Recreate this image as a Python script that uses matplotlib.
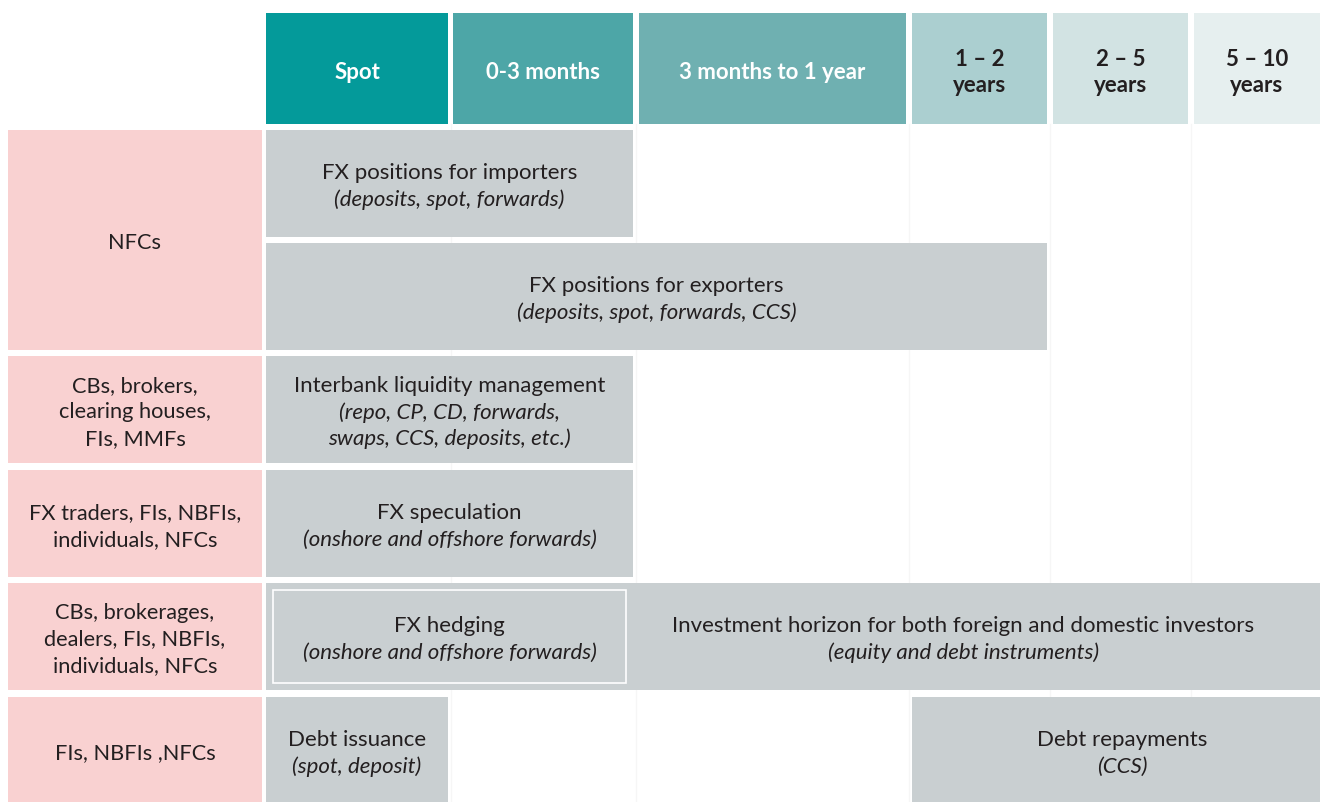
import matplotlib
matplotlib.use("Agg")
import matplotlib.pyplot as plt
from matplotlib.patches import Rectangle

# ---- data ----
horizons = ["Spot", "0-3 months", "3 months to 1 year",
            "1 – 2\nyears", "2 – 5\nyears", "5 – 10\nyears"]
header_colors = ["#049a9a", "#4da6a7", "#6fb0b1", "#abcfd0", "#d2e3e3", "#e6efef"]
header_text = ["white", "white", "white", "#231f20", "#231f20", "#231f20"]

participants = ["NFCs",
                "CBs, brokers,\nclearing houses,\nFIs, MMFs",
                "FX traders, FIs, NBFIs,\nindividuals, NFCs",
                "CBs, brokerages,\ndealers, FIs, NBFIs,\nindividuals, NFCs",
                "FIs, NBFIs ,NFCs"]
# which slots (sub-rows) each participant group spans
participant_slots = [(0, 1), (2, 2), (3, 3), (4, 4), (5, 5)]

# (slot, first horizon, last horizon, activity, instruments)
activities = [
    (0, 0, 1, "FX positions for importers", "(deposits, spot, forwards)"),
    (1, 0, 3, "FX positions for exporters", "(deposits, spot, forwards, CCS)"),
    (2, 0, 1, "Interbank liquidity management", "(repo, CP, CD, forwards,\nswaps, CCS, deposits, etc.)"),
    (3, 0, 1, "FX speculation", "(onshore and offshore forwards)"),
    (4, 0, 5, "Investment horizon for both foreign and domestic investors", "(equity and debt instruments)"),
    (5, 0, 0, "Debt issuance", "(spot, deposit)"),
    (5, 3, 5, "Debt repayments", "(CCS)"),
]
# activity drawn on top of another one, with white outline
hedging = (4, 0, 1, "FX hedging", "(onshore and offshore forwards)")

# ---- layout (pixels) ----
W, H = 1320, 803
col_left = [266, 453, 639, 912, 1053, 1194]
col_right = [448, 633, 906, 1047, 1188, 1332]
header_top, header_bot = 14, 125
slot_top = [131, 244, 357, 471, 584, 698]
slot_h = 107
label_x0, label_x1 = 8, 262
step = 26.5
fs = 16
dy = 2  # small baseline nudge

gray = "#c9cfd1"
pink = "#f9d1d1"
ink = "#231f20"
plt.rcParams["font.family"] = ["Lato", "DejaVu Sans"]

fig = plt.figure(figsize=(W / 100, H / 100), dpi=100)
ax = fig.add_axes([0, 0, 1, 1])
ax.set_xlim(0, W)
ax.set_ylim(H, 0)
ax.axis("off")


def lines_at(cx, cy, lines, **kw):
    # lines: list of (text, style)
    top = cy + dy - step * (len(lines) - 1) / 2
    for k, (txt, st) in enumerate(lines):
        ax.text(cx, top + k * step, txt, ha="center", va="center",
                style=st, **kw)


# faint guide lines between columns
for x in [450.5, 636, 909, 1050, 1191]:
    ax.plot([x, x], [header_bot, H], color="#f6f6f6", lw=1, zorder=0)

# header
for i, name in enumerate(horizons):
    ax.add_patch(Rectangle((col_left[i], header_top), col_right[i] - col_left[i],
                           header_bot - header_top, color=header_colors[i], lw=0))
    cx = (col_left[i] + col_right[i]) / 2 - (6 if i == 5 else 0)
    lines_at(cx, (header_top + header_bot) / 2 + 1,
             [(t, "normal") for t in name.split("\n")],
             fontsize=fs, fontweight="bold", color=header_text[i])

# participants
for name, (s0, s1) in zip(participants, participant_slots):
    y0 = slot_top[s0]
    y1 = slot_top[s1] + slot_h
    ax.add_patch(Rectangle((label_x0, y0), label_x1 - label_x0, y1 - y0, color=pink, lw=0))
    lines_at((label_x0 + label_x1) / 2, (y0 + y1) / 2,
             [(t, "normal") for t in name.split("\n")], fontsize=15.7, color=ink)


def draw_activity(slot, c0, c1, title, detail, inset=0, edge=None, cx=None):
    x0 = col_left[c0] + inset
    x1 = col_right[c1] - inset
    if c1 == 1:
        x1 = 633 - inset
    y0 = slot_top[slot] + inset
    y1 = slot_top[slot] + slot_h - inset
    ax.add_patch(Rectangle((x0, y0), x1 - x0, y1 - y0, facecolor=gray,
                           edgecolor=edge if edge else "none", lw=1.2))
    if cx is None:
        cx = (x0 + x1) / 2
    lines = [(title, "normal")] + [(t, "italic") for t in detail.split("\n")]
    lines_at(cx, (y0 + y1) / 2, lines, fontsize=fs, color=ink)


for slot, c0, c1, title, detail in activities:
    if title.startswith("Investment"):
        # text centred over the part not covered by the hedging box
        draw_activity(slot, c0, c1, title, detail, cx=(633 + 1294) / 2)
    else:
        draw_activity(slot, c0, c1, title, detail)

draw_activity(*hedging, inset=7, edge="white")

fig.savefig("out.png", dpi=100)
